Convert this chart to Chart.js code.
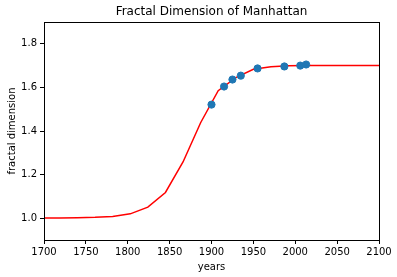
<!DOCTYPE html>
<html>
<head>
<meta charset="utf-8">
<script src="https://cdn.jsdelivr.net/npm/chart.js@4.4.0/dist/chart.umd.min.js"></script>
<style>
  html, body { margin: 0; padding: 0; background: #fff; }
  #wrap { width: 397px; height: 277px; }
</style>
</head>
<body>
<div id="wrap"><canvas id="fractalChart"></canvas></div>
<script>
// fitted curve
const curveYears = [1698, 1719, 1740, 1761, 1782, 1803, 1824, 1845, 1866, 1887, 1908, 1929, 1950, 1971, 1992, 2013, 2034, 2055, 2076, 2097, 2118];
const curveValues = [1.001, 1.001, 1.002, 1.004, 1.008, 1.02, 1.051, 1.118, 1.258, 1.438, 1.585, 1.645, 1.683, 1.695, 1.699, 1.7, 1.7, 1.7, 1.7, 1.7, 1.7];

// measured values
const obsYears = [1900, 1915, 1925, 1935, 1955, 1987, 2006, 2013];
const obsValues = [1.521, 1.604, 1.636, 1.654, 1.687, 1.696, 1.700, 1.705];

const xTicks = [1700, 1750, 1800, 1850, 1900, 1950, 2000, 2050, 2100];
const yTicks = [1.0, 1.2, 1.4, 1.6, 1.8];

const TITLE = 'Fractal Dimension of Manhattan';
const FONT = 'DejaVu Sans';

// box around the plot area + title centred over it
const frame = {
    id: 'frame',
    afterDatasetsDraw(chart) {
        const a = chart.chartArea;
        const ctx = chart.ctx;
        ctx.save();
        ctx.strokeStyle = '#000';
        ctx.lineWidth = 1;
        ctx.strokeRect(Math.round(a.left) + 0.5, Math.round(a.top) + 0.5,
            Math.round(a.right - a.left), Math.round(a.bottom - a.top));
        ctx.fillStyle = '#000';
        ctx.font = '12px "' + FONT + '"';
        ctx.textAlign = 'center';
        ctx.textBaseline = 'middle';
        ctx.fillText(TITLE, (a.left + a.right) / 2, 12);
        ctx.restore();
    }
};

new Chart(document.getElementById('fractalChart'), {
    type: 'scatter',
    data: {
        datasets: [{
            data: obsYears.map((x, i) => ({ x: x, y: obsValues[i] })),
            backgroundColor: '#1f77b4',
            borderColor: '#1f77b4',
            pointRadius: 3.6,
            pointHoverRadius: 3.6
        }, {
            data: curveYears.map((x, i) => ({ x: x, y: curveValues[i] })),
            showLine: true,
            borderColor: '#ff0000',
            borderWidth: 1.5,
            pointRadius: 0,
            tension: 0
        }]
    },
    options: {
        responsive: true,
        maintainAspectRatio: false,
        animation: false,
        layout: {
            padding: { left: 0, right: 18, top: 22, bottom: 0 }
        },
        plugins: {
            legend: { display: false },
            tooltip: { enabled: false },
            title: { display: false }
        },
        scales: {
            x: {
                type: 'linear',
                min: 1700,
                max: 2100,
                afterBuildTicks: (scale) => { scale.ticks = xTicks.map(v => ({ value: v })); },
                afterFit: (scale) => { scale.height = 37; },
                ticks: {
                    color: '#000',
                    font: { family: FONT, size: 10 },
                    padding: 2,
                    maxRotation: 0,
                    autoSkip: false,
                    callback: (v) => String(v)
                },
                grid: {
                    drawOnChartArea: false,
                    color: '#000',
                    tickLength: 4,
                    tickColor: '#000'
                },
                border: { display: false },
                title: {
                    display: true,
                    text: 'years',
                    color: '#000',
                    font: { family: FONT, size: 10 },
                    padding: { top: 0, bottom: 4 }
                }
            },
            y: {
                type: 'linear',
                min: 0.9,
                max: 1.9,
                afterBuildTicks: (scale) => { scale.ticks = yTicks.map(v => ({ value: v })); },
                afterFit: (scale) => { scale.width = 44; },
                ticks: {
                    color: '#000',
                    font: { family: FONT, size: 10 },
                    padding: 3,
                    callback: (v) => v.toFixed(1)
                },
                grid: {
                    drawOnChartArea: false,
                    color: '#000',
                    tickLength: 4,
                    tickColor: '#000'
                },
                border: { display: false },
                title: {
                    display: true,
                    text: 'fractal dimension',
                    color: '#000',
                    font: { family: FONT, size: 10 },
                    padding: { top: 6, bottom: 0 }
                }
            }
        }
    },
    plugins: [frame]
});
</script>
</body>
</html>
